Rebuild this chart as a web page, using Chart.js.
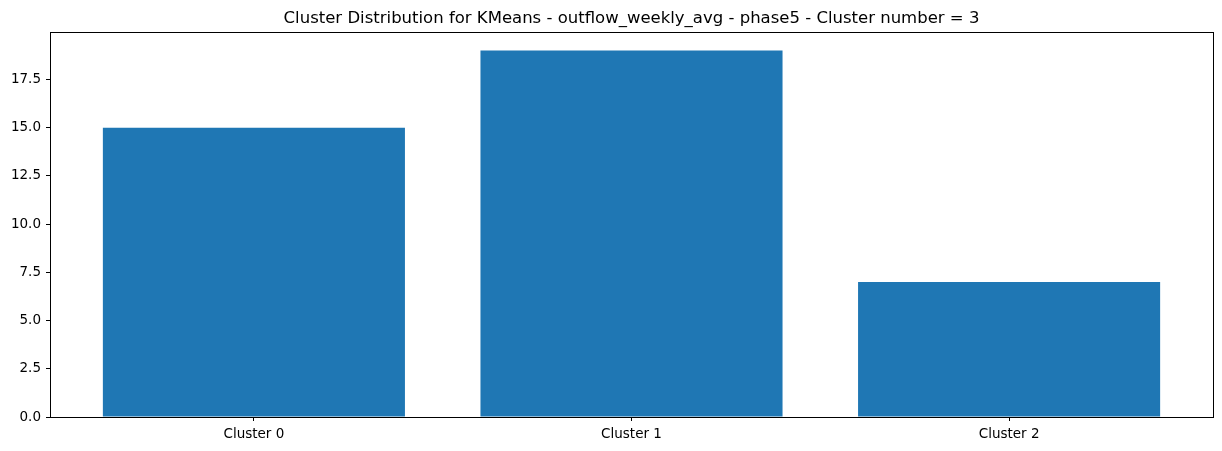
<!DOCTYPE html>
<html>
<head>
<meta charset="utf-8">
<script src="https://cdn.jsdelivr.net/npm/chart.js@4/dist/chart.umd.min.js"></script>
<style>
  html, body { margin: 0; padding: 0; background: #fff; }
  #wrap { width: 1222px; height: 451px; position: relative; }
</style>
</head>
<body>
<div id="wrap"><canvas id="data"></canvas></div>
<script>
var clusters = ["Cluster 0", "Cluster 1", "Cluster 2"];
var counts = [15, 19, 7];
var y_ticks = [0, 2.5, 5, 7.5, 10, 12.5, 15, 17.5];
var title_text = "Cluster Distribution for KMeans - outflow_weekly_avg - phase5 - Cluster number = 3";

var font_family = "'DejaVu Sans', sans-serif";

// matplotlib draws all four spines
var box_plugin = {
    id: 'box',
    afterDraw: function(chart) {
        var a = chart.chartArea;
        var ctx = chart.ctx;
        ctx.save();
        ctx.strokeStyle = '#000';
        ctx.lineWidth = 1;
        ctx.strokeRect(Math.round(a.left) + 0.5, Math.round(a.top) + 0.5,
                       Math.round(a.right - a.left), Math.round(a.bottom - a.top));
        ctx.restore();
    }
};

var config = {
  type: 'bar',
  data: {
    datasets: [{
      data: counts.map(function(v, i) { return {x: i, y: v}; }),
      backgroundColor: '#1f77b4',
      borderWidth: 0,
      barPercentage: 0.8,
      categoryPercentage: 1.0
    }]
  },
  options: {
    responsive: true,
    maintainAspectRatio: false,
    animation: false,
    layout: { padding: { left: 0, right: 9, top: 0, bottom: 0 } },
    plugins: {
      legend: { display: false },
      tooltip: { enabled: false },
      title: {
        display: true,
        text: title_text,
        fullSize: false,
        color: '#000',
        font: { family: font_family, size: 16.5, weight: 'normal', lineHeight: 1.2 },
        padding: { top: 9, bottom: 3.5 }
      }
    },
    scales: {
      x: {
        type: 'linear',
        min: -0.54,
        max: 2.54,
        offset: false,
        afterBuildTicks: function(scale) {
            scale.ticks = clusters.map(function(c, i) { return {value: i}; });
        },
        afterFit: function(scale) { scale.height = 34; },
        grid: { display: true, offset: false, drawOnChartArea: false, drawTicks: true, tickLength: 4, color: '#000' },
        border: { display: true, color: '#000' },
        ticks: {
          color: '#000',
          padding: 5,
          maxRotation: 0,
          autoSkip: false,
          font: { family: font_family, size: 13.5 },
          callback: function(value) { return clusters[value]; }
        }
      },
      y: {
        min: 0,
        max: 19.95,
        afterBuildTicks: function(scale) {
            scale.ticks = y_ticks.map(function(v) { return {value: v}; });
        },
        afterFit: function(scale) { scale.width = 50; },
        grid: { display: true, drawOnChartArea: false, drawTicks: true, tickLength: 4, color: '#000' },
        border: { display: true, color: '#000' },
        ticks: {
          color: '#000',
          padding: 5,
          font: { family: font_family, size: 13.5 },
          callback: function(value) { return Number(value).toFixed(1); }
        }
      }
    }
  },
  plugins: [box_plugin]
};

(function() {
    new Chart(document.getElementById('data'), config);
})();
</script>
</body>
</html>
